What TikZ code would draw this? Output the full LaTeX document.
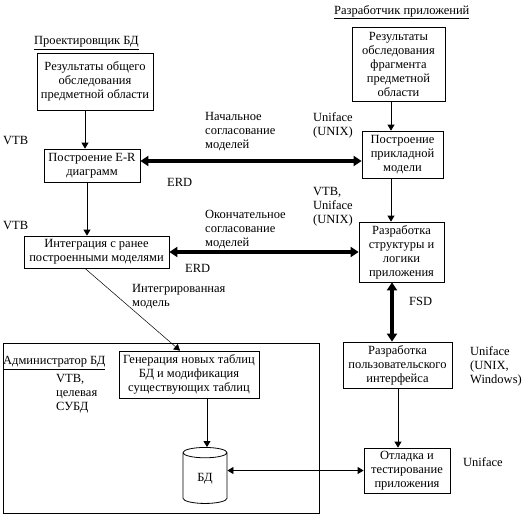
\documentclass[tikz,border=0pt]{standalone}
\usepackage{fontspec}
\setmainfont{Liberation Serif}
\usetikzlibrary{arrows.meta,shapes.geometric}
\begin{document}
\begin{tikzpicture}[
    x=1pt, y=-1pt,
    every node/.style={font=\fontsize{12.5}{14}\selectfont},
    stage/.style={rectangle, draw, line width=0.8pt, align=center, inner sep=1pt},
    note/.style={anchor=west, align=left, inner sep=0pt},
    flow/.style={line width=0.8pt, -{Triangle[length=6pt,width=7pt]}},
    link/.style={line width=0.8pt, {Triangle[length=6pt,width=7pt]}-{Triangle[length=6pt,width=7pt]}},
    agree/.style={line width=3.5pt, {Triangle[length=8pt,width=10pt]}-{Triangle[length=8pt,width=10pt]}}
]
    \useasboundingbox (0,0) rectangle (531,515);

    % Role frame
    \draw[line width=0.8pt] (3,343) rectangle (319,513);

    % Role titles
    \node[note] (designer) at (34,43) {\underline{Проектировщик БД}};
    \node[note] (developer) at (334,12) {\underline{Разработчик приложений}};
    \node[note] (admin) at (3,363) {\underline{Администратор БД}};

    % Designer stages
    \node[stage, minimum width=116pt, minimum height=57pt] (survey) at (95,81.5) {Результаты общего\\обследования\\предметной области};
    \node[stage, minimum width=96pt, minimum height=33pt] (erd) at (92,165.5) {Построение E-R\\диаграмм};
    \node[stage, minimum width=145pt, minimum height=32pt] (merge) at (96.5,252) {Интеграция с ранее\\построенными моделями};

    % Developer stages
    \node[stage, minimum width=93pt, minimum height=74pt] (fragment) at (398.5,64) {Результаты\\обследования\\фрагмента\\предметной\\области};
    \node[stage, minimum width=81pt, minimum height=47pt] (appmodel) at (402.5,154.5) {Построение\\прикладной\\модели};
    \node[stage, minimum width=85pt, minimum height=60pt] (logic) at (401.5,252) {Разработка\\структуры и\\логики\\приложения};
    \node[stage, minimum width=109pt, minimum height=46pt] (ui) at (397.5,365) {Разработка\\пользовательского\\интерфейса};
    \node[stage, minimum width=86pt, minimum height=45pt] (debug) at (407,470.5) {Отладка и\\тестирование\\приложения};

    % Administrator stages
    \node[stage, minimum width=140pt, minimum height=47pt] (tables) at (189,374.5) {Генерация новых таблиц\\БД и модификация\\существующих таблиц};
    \node[cylinder, shape border rotate=90, draw, line width=0.8pt, aspect=0.6,
          minimum height=56pt, minimum width=44pt, inner sep=1pt] (db) at (205,479) {БД};

    % Tool labels
    \node[note] (tool1) at (3,140) {VTB};
    \node[note] (tool2) at (3,225) {VTB};
    \node[note] (tool3) at (313,125) {Uniface\\(UNIX)};
    \node[note] (tool4) at (313,206.5) {VTB,\\Uniface\\(UNIX)};
    \node[note] (tool5) at (56,394) {VTB,\\целевая\\СУБД};
    \node[note] (tool6) at (470,366) {Uniface\\(UNIX,\\Windows)};
    \node[note] (tool7) at (463,462) {Uniface};

    % Connector labels
    \node[note] (first) at (205,132) {Начальное\\согласование\\моделей};
    \node[note] (final) at (205,229.5) {Окончательное\\согласование\\моделей};
    \node[note] (erd1) at (167,182) {ERD};
    \node[note] (erd2) at (185,268) {ERD};
    \node[note] (model) at (132,297) {Интегрированная\\модель};
    \node[note] (fsd) at (409,301) {FSD};

    % Connections
    \draw[flow] ([xshift=-10pt]survey.south) -- ([xshift=-10pt]survey.south |- erd.north);
    \draw[flow] ([xshift=-5pt]erd.south) -- ([xshift=-5pt]erd.south |- merge.north);
    \draw[flow] ([xshift=-7.5pt]fragment.south) -- ([xshift=-7.5pt]fragment.south |- appmodel.north);
    \draw[flow] ([xshift=-11.5pt]appmodel.south) -- ([xshift=-11.5pt]appmodel.south |- logic.north);
    \draw[flow, line width=0.5pt] ([xshift=-11.5pt]merge.south) -- ([xshift=-9pt]tables.north);
    \draw[flow] ([xshift=18pt]tables.south) -- ([xshift=18pt]tables.south |- db.north);
    \draw[flow] ([xshift=0.5pt]ui.south) -- ([xshift=0.5pt]ui.south |- debug.north);
    \draw[link] (debug.west -| db.east) -- (debug.west);
    \draw[agree] ([yshift=4.5pt]erd.east) -- ([yshift=4.5pt]erd.east -| appmodel.west);
    \draw[agree] (merge.east) -- (logic.west);
    \draw[agree] ([xshift=-9.5pt]logic.south) -- ([xshift=-9.5pt]logic.south |- ui.north);
\end{tikzpicture}
\end{document}
